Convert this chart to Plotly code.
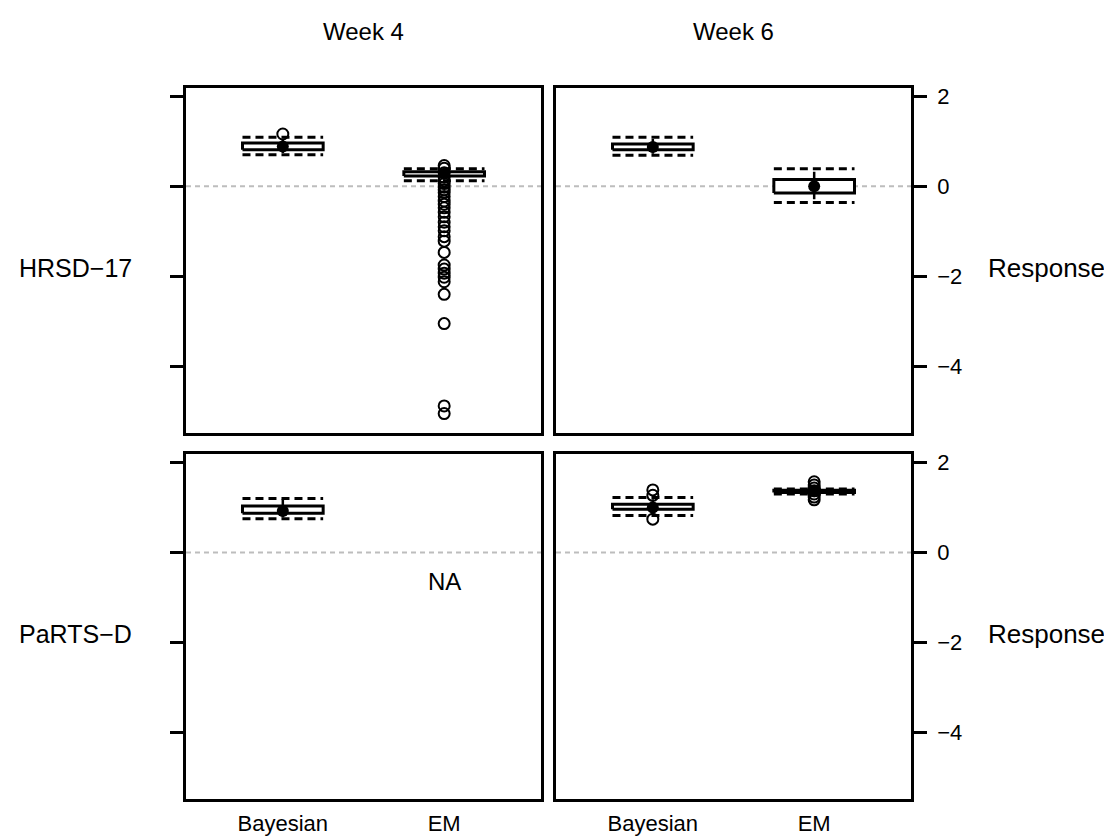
import plotly.graph_objects as go

# ---------------- data ----------------
weeks = ["Week 4", "Week 6"]
scales = ["HRSD\u221217", "PaRTS\u2212D"]
methods = ["Bayesian", "EM"]
y_tick_vals = [2, 0, -2, -4]
y_tick_text = ["2", "0", "\u22122", "\u22124"]

# panel order: (HRSD W4), (HRSD W6), (PaRTS W4), (PaRTS W6); each [Bayesian, EM]
box_q1 = [[0.81, 0.23], [0.81, -0.15], [0.87, None], [0.96, 1.33]]
box_q3 = [[0.96, 0.32], [0.94, 0.15], [1.03, None], [1.07, 1.38]]
band_lo = [[0.70, 0.12], [0.69, -0.36], [0.75, None], [0.82, 1.30]]
band_hi = [[1.09, 0.39], [1.09, 0.39], [1.20, None], [1.22, 1.41]]
center = [[0.88, 0.28], [0.87, 0.00], [0.92, None], [1.00, 1.36]]
ci_lo = [[0.74, 0.15], [0.72, -0.29], [0.78, None], [0.85, 1.31]]
ci_hi = [[1.05, 0.37], [1.05, 0.32], [1.18, None], [1.18, 1.40]]
outliers = [
    [[1.16],
     [0.46, 0.40, 0.30, 0.20, 0.12, 0.06, -0.02, -0.08, -0.14, -0.23, -0.33, -0.40,
      -0.48, -0.58, -0.68, -0.80, -0.90, -0.99, -1.12, -1.22, -1.47, -1.75, -1.84,
      -1.93, -2.02, -2.12, -2.40, -3.05, -4.88, -5.05]],
    [[], []],
    [[], None],
    [[1.39, 1.27, 0.74], [1.57, 1.50, 1.43, 1.37, 1.30, 1.23, 1.17]],
]
na_value_y = -0.64

# ---------------- layout constants ----------------
W, H = 1112, 838
OFF = 8  # page body margin: figure starts 8px from the window corner
HALF = 0.25
X_RANGE = [0.4, 2.6]
Y_RANGE = [-5.48, 2.19]


def px_x(v):
    return (v - OFF) / W


def px_y(v):
    return 1 - (v - OFF) / H


x_dom = [[px_x(186), px_x(541)], [px_x(556), px_x(911)]]
y_dom = [[px_y(431), px_y(84)], [px_y(799), px_y(452)]]
FONT = "Liberation Sans, Arial, sans-serif"

fig = go.Figure()

for p in range(4):
    r, c = divmod(p, 2)
    idx = p + 1
    xa = "x" if idx == 1 else f"x{idx}"
    ya = "y" if idx == 1 else f"y{idx}"
    # zero reference line
    fig.add_trace(go.Scatter(x=X_RANGE, y=[0, 0], mode="lines", xaxis=xa, yaxis=ya,
                             line=dict(color="#bdbdbd", width=2, dash="5px,4px"),
                             hoverinfo="skip", showlegend=False))
    for m in range(2):
        if box_q1[p][m] is None:
            continue
        cx = m + 1
        x0, x1 = cx - HALF, cx + HALF
        for yv in (band_hi[p][m], band_lo[p][m]):
            fig.add_trace(go.Scatter(x=[x0, x1], y=[yv, yv], mode="lines", xaxis=xa, yaxis=ya,
                                     line=dict(color="black", width=3, dash="8px,5px"),
                                     showlegend=False))
        q1, q3 = box_q1[p][m], box_q3[p][m]
        fig.add_trace(go.Scatter(x=[x0, x1, x1, x0, x0], y=[q1, q1, q3, q3, q1],
                                 mode="lines", fill="toself", fillcolor="white",
                                 xaxis=xa, yaxis=ya,
                                 line=dict(color="black", width=3), showlegend=False))
        fig.add_trace(go.Scatter(x=[cx, cx], y=[ci_lo[p][m], ci_hi[p][m]], mode="lines",
                                 xaxis=xa, yaxis=ya, line=dict(color="black", width=2.5),
                                 showlegend=False))
        fig.add_trace(go.Scatter(x=[cx], y=[center[p][m]], mode="markers", xaxis=xa, yaxis=ya,
                                 marker=dict(symbol="circle", size=12, color="black"),
                                 showlegend=False))
        ol = outliers[p][m]
        if ol:
            fig.add_trace(go.Scatter(x=[cx] * len(ol), y=ol, mode="markers", xaxis=xa, yaxis=ya,
                                     marker=dict(symbol="circle-open", size=11, color="black",
                                                 line=dict(width=2, color="black")),
                                     showlegend=False))

    common_x = dict(domain=x_dom[c], range=X_RANGE, showline=True, mirror=True,
                    linecolor="black", linewidth=2.5, showgrid=False, zeroline=False,
                    tickvals=[1, 2], ticktext=methods, ticks="",
                    showticklabels=(r == 1), ticklabelstandoff=3,
                    tickfont=dict(family=FONT, size=22, color="black"),
                    anchor=ya, fixedrange=True)
    common_y = dict(domain=y_dom[r], range=Y_RANGE, showline=True, mirror=True,
                    linecolor="black", linewidth=2.5, showgrid=False, zeroline=False,
                    tickvals=y_tick_vals, ticktext=y_tick_text, ticks="outside",
                    ticklen=13, tickwidth=2.5, tickcolor="black",
                    side="left" if c == 0 else "right",
                    showticklabels=(c == 1), ticklabelstandoff=6,
                    tickfont=dict(family=FONT, size=22, color="black"),
                    anchor=xa, fixedrange=True)
    key_x = "xaxis" if idx == 1 else f"xaxis{idx}"
    key_y = "yaxis" if idx == 1 else f"yaxis{idx}"
    fig.update_layout({key_x: common_x, key_y: common_y})

annotations = []
for c, wk in enumerate(weeks):
    annotations.append(dict(text=wk, x=(x_dom[c][0] + x_dom[c][1]) / 2, y=px_y(28),
                            xref="paper", yref="paper", xanchor="center", yanchor="middle",
                            showarrow=False, font=dict(family=FONT, size=24, color="black")))
row_y = [px_y(265), px_y(633)]
for r, sc in enumerate(scales):
    annotations.append(dict(text=sc, x=px_x(75), y=row_y[r], xref="paper", yref="paper",
                            xanchor="center", yanchor="middle", showarrow=False,
                            font=dict(family=FONT, size=25, color="black")))
    annotations.append(dict(text="Response", x=px_x(1046), y=row_y[r], xref="paper",
                            yref="paper", xanchor="center", yanchor="middle", showarrow=False,
                            font=dict(family=FONT, size=26, color="black")))
annotations.append(dict(text="NA", x=2, y=na_value_y, xref="x3", yref="y3",
                        xanchor="center", yanchor="middle", showarrow=False,
                        font=dict(family=FONT, size=24, color="black")))

fig.update_layout(width=W, height=H, margin=dict(l=0, r=0, t=0, b=0),
                  paper_bgcolor="white", plot_bgcolor="white",
                  annotations=annotations, showlegend=False)

fig.write_html("out.html")
